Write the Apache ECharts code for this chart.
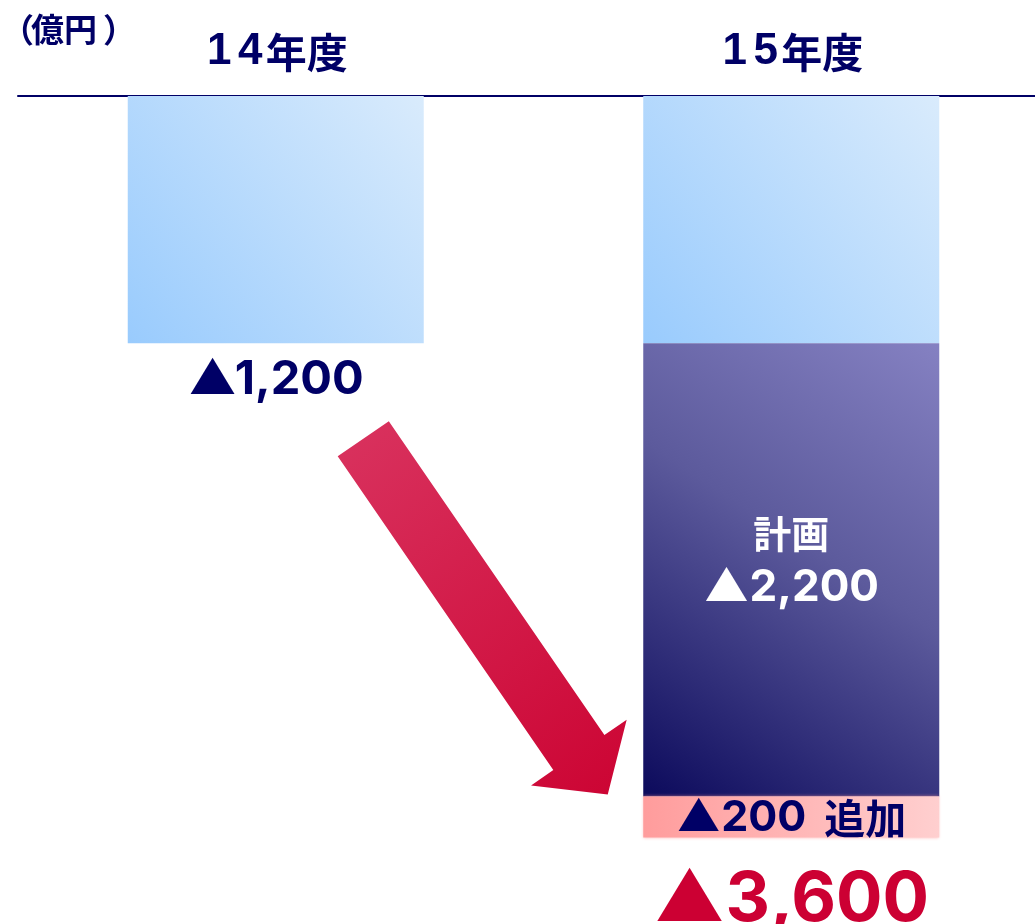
<!DOCTYPE html>
<html>
<head>
<meta charset="utf-8">
<script src="https://cdn.jsdelivr.net/npm/echarts@6/dist/echarts.min.js"></script>
<style>
  html, body { margin: 0; padding: 0; background: #ffffff; }
  #chart { width: 1035px; height: 924px; }
</style>
</head>
<body>
<div id="chart"></div>
<script>
// 年度別の赤字額（億円）
const categories = ['14年度', '15年度'];
const baseValues = [1200, 1200];     // 前年度水準
const planValues = [null, 2200];     // 計画分
const addedValues = [null, 200];     // 追加分
const unitLabel = '（億円）';
const planLabel = '計画';
const addedLabel = '追加';

const totalValues = planValues.map((p, i) =>
  p == null ? null : baseValues[i] + p + (addedValues[i] || 0));

const NAVY = '#000066';
const RED = '#cc0033';
const NUM_FONT = 'Inter, "Liberation Sans", "Noto Sans CJK JP", sans-serif';
const LAT_FONT = '"Liberation Sans", Arial, sans-serif';
const JP_FONT = '"Noto Sans CJK JP", "Noto Sans", sans-serif';
const fmt = v => '▲' + Number(v).toLocaleString('en-US');

// 数字は等幅の枠、漢字はそのまま
const splitYearLabel = s => s.split('').map(ch =>
  /\d/.test(ch) ? '{d|' + ch + '}' : '{k|' + ch + '}').join('');

const chart = echarts.init(document.getElementById('chart'), null, { renderer: 'canvas' });

const option = {
  backgroundColor: '#ffffff',
  animation: false,
  title: {
    text: '{l|' + unitLabel.slice(0, 1) + '}{k|' + unitLabel.slice(1, -1) + '}{r|' + unitLabel.slice(-1) + '}',
    left: -4,
    top: 8,
    textStyle: {
      rich: {
        l: { color: NAVY, fontSize: 33, fontWeight: 'bold', fontFamily: JP_FONT, width: 30, align: 'left' },
        k: { color: NAVY, fontSize: 33, fontWeight: 'bold', fontFamily: JP_FONT },
        r: { color: NAVY, fontSize: 33, fontWeight: 'bold', fontFamily: JP_FONT, padding: [0, 0, 0, 6] }
      }
    }
  },
  grid: { left: 18, top: 96, width: 1031, height: 824, outerBoundsMode: 'none', containLabel: false },
  xAxis: {
    type: 'category',
    data: categories,
    position: 'top',
    axisLine: { onZero: false, lineStyle: { color: NAVY, width: 2 } },
    axisTick: { show: false },
    axisLabel: {
      margin: 22,
      formatter: splitYearLabel,
      rich: {
        d: { color: NAVY, fontSize: 44, fontWeight: 'bold', fontFamily: LAT_FONT, width: 31, align: 'center' },
        k: { color: NAVY, fontSize: 41, fontWeight: 'bold', fontFamily: JP_FONT }
      }
    },
    splitLine: { show: false }
  },
  yAxis: { type: 'value', inverse: true, min: 0, max: 4000, show: false },
  series: [
    {
      name: 'base',
      type: 'bar',
      stack: 'deficit',
      barWidth: 296,
      data: baseValues.map((v, i) => ({ value: v, label: { show: i === 0 } })),
      itemStyle: {
        color: new echarts.graphic.LinearGradient(0, 1, 1, 0, [
          { offset: 0, color: '#99cbfd' },
          { offset: 1, color: '#d9ebfc' }
        ])
      },
      label: {
        position: 'bottom',
        distance: 13,
        formatter: p => fmt(p.value),
        color: NAVY,
        fontSize: 47,
        fontWeight: 'bold',
        fontFamily: NUM_FONT
      }
    },
    {
      name: 'plan',
      type: 'bar',
      stack: 'deficit',
      barWidth: 296,
      data: planValues,
      itemStyle: {
        color: new echarts.graphic.LinearGradient(0, 1, 1, 0, [
          { offset: 0, color: '#0c0a5c' },
          { offset: 0.55, color: '#5c5a9c' },
          { offset: 1, color: '#8581c2' }
        ])
      },
      label: {
        show: true,
        position: 'inside',
        offset: [0, -9],
        formatter: p => '{t|' + planLabel + '}\n{v|' + fmt(p.value) + '}',
        rich: {
          t: { color: '#ffffff', fontSize: 38, fontWeight: 'bold', fontFamily: JP_FONT, lineHeight: 54 },
          v: { color: '#ffffff', fontSize: 44, fontWeight: 'bold', fontFamily: NUM_FONT, lineHeight: 54 }
        }
      }
    },
    {
      name: 'added',
      type: 'bar',
      stack: 'deficit',
      barWidth: 296,
      data: addedValues,
      itemStyle: {
        color: new echarts.graphic.LinearGradient(0, 0, 1, 0, [
          { offset: 0, color: '#ff9c9c' },
          { offset: 1, color: '#ffcfcf' }
        ]),
        shadowColor: 'rgba(255,150,150,0.6)',
        shadowBlur: 3
      },
      label: {
        show: true,
        position: 'inside',
        offset: [0, 1],
        formatter: p => '{v|' + fmt(p.value) + '}{t|' + addedLabel + '}',
        rich: {
          v: { color: NAVY, fontSize: 43, fontWeight: 'bold', fontFamily: NUM_FONT },
          t: { color: NAVY, fontSize: 41, fontWeight: 'bold', fontFamily: JP_FONT, padding: [0, 0, 0, 18] }
        }
      }
    },
    {
      name: 'total',
      type: 'bar',
      barWidth: 296,
      barGap: '-100%',
      silent: true,
      data: totalValues,
      itemStyle: { color: 'rgba(0,0,0,0)' },
      label: {
        show: true,
        position: 'bottom',
        distance: 28,
        formatter: p => fmt(p.value),
        color: RED,
        fontSize: 69,
        fontWeight: 'bold',
        fontFamily: NUM_FONT
      }
    }
  ]
};

chart.setOption(option);

// 14年度から15年度合計へ向かう矢印
function drawArrow() {
  const from = chart.convertToPixel({ gridIndex: 0 }, [categories[0], baseValues[0]]);
  const to = chart.convertToPixel({ gridIndex: 0 }, [categories[1], totalValues[1]]);
  const tail = [from[0] + 87.5, from[1] + 95.5];
  const tip = [to[0] - 183.5, to[1] - 43];
  const dx = tip[0] - tail[0], dy = tip[1] - tail[1];
  const len = Math.hypot(dx, dy);
  const ux = dx / len, uy = dy / len;
  const nx = uy, ny = -ux;
  const shaftHalf = 31, headHalf = 58, headLen = 51;
  const at = (a, b) => [tail[0] + ux * a + nx * b, tail[1] + uy * a + ny * b];
  const pts = [
    at(0, shaftHalf), at(len - headLen, shaftHalf), at(len - headLen, headHalf),
    at(len, 0),
    at(len - headLen, -headHalf), at(len - headLen, -shaftHalf), at(0, -shaftHalf)
  ];
  chart.setOption({
    graphic: [{
      type: 'polygon',
      id: 'arrow',
      silent: true,
      z: 10,
      shape: { points: pts },
      style: {
        fill: new echarts.graphic.LinearGradient(0, 0, 1, 1, [
          { offset: 0, color: '#d9335f' },
          { offset: 1, color: '#cc0433' }
        ])
      }
    }]
  });
}
drawArrow();
</script>
</body>
</html>
